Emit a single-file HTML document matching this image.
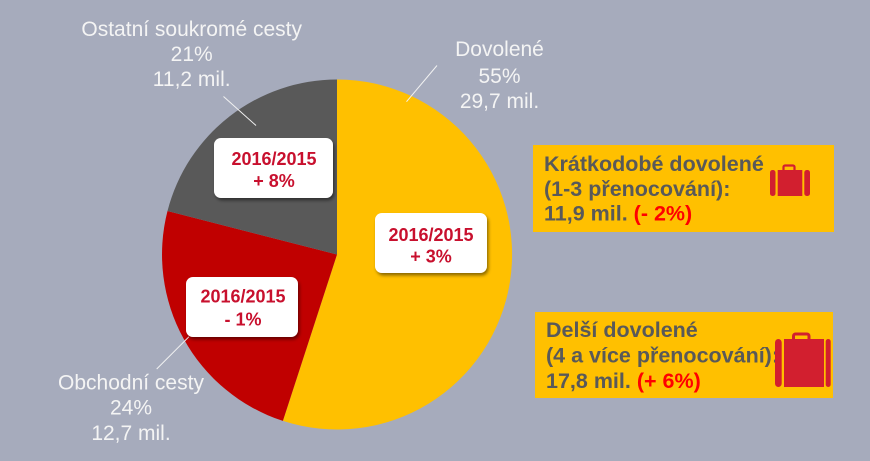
<!DOCTYPE html>
<html>
<head>
<meta charset="utf-8">
<style>
html,body{margin:0;padding:0;background:#a6abbc;}
svg{display:block;}
</style>
</head>
<body>
<svg width="870" height="461" viewBox="0 0 870 461" xmlns="http://www.w3.org/2000/svg">
<defs>
<filter id="sh" x="-20%" y="-20%" width="140%" height="150%">
<feDropShadow dx="1.5" dy="2.5" stdDeviation="1.5" flood-color="#000" flood-opacity="0.45"/>
</filter>
</defs>
<rect x="0" y="0" width="870" height="461" fill="#a6abbc"/>

<!-- pie -->
<path d="M337,254.5 L337,79.5 A175,175 0 1 1 282.9,420.9 Z" fill="#FFC000"/>
<path d="M337,254.5 L282.9,420.9 A175,175 0 0 1 167.5,211 Z" fill="#C00000"/>
<path d="M337,254.5 L167.5,211 A175,175 0 0 1 337,79.5 Z" fill="#595959"/>

<!-- leader lines -->
<line x1="223.5" y1="96.5" x2="256" y2="125.5" stroke="#f2f2f2" stroke-width="1"/>
<line x1="437" y1="65.5" x2="406.5" y2="101.7" stroke="#f2f2f2" stroke-width="1"/>
<line x1="189" y1="336.7" x2="156.7" y2="369" stroke="#f2f2f2" stroke-width="1"/>

<!-- outside labels -->
<g font-family="Liberation Sans, Arial, sans-serif" font-size="21" fill="#f4f4f4" text-anchor="middle">
<text x="191.7" y="36">Ostatní soukromé cesty</text>
<text x="191.7" y="61">21%</text>
<text x="191.7" y="86">11,2 mil.</text>
<text x="499.5" y="56">Dovolené</text>
<text x="499.5" y="83">55%</text>
<text x="499.5" y="108">29,7 mil.</text>
<text x="131" y="389.5">Obchodní cesty</text>
<text x="131" y="414.5">24%</text>
<text x="131" y="440">12,7 mil.</text>
</g>

<!-- white label boxes -->
<g filter="url(#sh)">
<rect x="214" y="138" width="119" height="60" rx="7" fill="#ffffff"/>
<rect x="375" y="213" width="112" height="60" rx="7" fill="#ffffff"/>
<rect x="186" y="277" width="112" height="60" rx="7" fill="#ffffff"/>
</g>
<g font-family="Liberation Sans, Arial, sans-serif" font-size="18" font-weight="bold" fill="#C8102E" text-anchor="middle">
<text x="274" y="165">2016/2015</text>
<text x="274" y="187">+ 8%</text>
<text x="431" y="241">2016/2015</text>
<text x="431" y="262.5">+ 3%</text>
<text x="243" y="302.7">2016/2015</text>
<text x="243" y="325.5">- 1%</text>
</g>

<!-- right boxes -->
<rect x="533" y="145" width="301" height="87" fill="#FFC000"/>
<rect x="535" y="312" width="298" height="86" fill="#FFC000"/>
<g font-family="Liberation Sans, Arial, sans-serif" font-size="21.5" font-weight="bold" fill="#595959">
<text x="544" y="171">Krátkodobé dovolené</text>
<text x="544" y="196">(1-3 přenocování):</text>
<text x="544" y="220.5">11,9 mil. <tspan fill="#FF0000">(- 2%)</tspan></text>
<text x="546" y="337">Delší dovolené</text>
<text x="546" y="362.5">(4 a více přenocování):</text>
<text x="546" y="388">17,8 mil. <tspan fill="#FF0000">(+ 6%)</tspan></text>
</g>

<!-- suitcase A -->
<g fill="#D21F2F">
<rect x="783.5" y="165.5" width="11" height="6" rx="1.5" fill="none" stroke="#D21F2F" stroke-width="2.2"/>
<rect x="770" y="170" width="5.5" height="26" rx="2.5"/>
<rect x="777.7" y="170" width="24.6" height="26"/>
<rect x="804.3" y="170" width="5.7" height="26" rx="2.5"/>
</g>
<!-- suitcase B -->
<g fill="#D21F2F">
<rect x="793.5" y="334" width="15.5" height="7" rx="2" fill="none" stroke="#D21F2F" stroke-width="3"/>
<rect x="775" y="339" width="6.7" height="48" rx="3.5"/>
<rect x="784" y="339" width="40" height="48"/>
<rect x="825.7" y="339" width="5" height="48" rx="2.5"/>
</g>
</svg>
</body>
</html>
